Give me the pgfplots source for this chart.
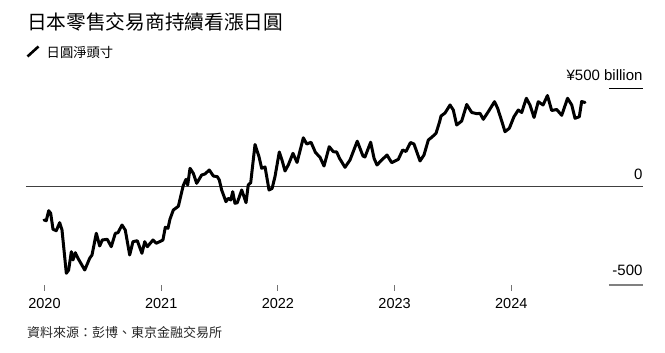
\documentclass[border=0pt]{standalone}
\usepackage{pgfplots}
\pgfplotsset{compat=1.18}
\usepackage{fontspec}
\setmainfont{Liberation Sans}
\newfontfamily\cjk{Noto Sans CJK TC}
\pgfplotstableread{
year value
2019.996 -168.4
2020.015 -171.9
2020.036 -120.9
2020.053 -134.2
2020.073 -215.8
2020.101 -223.0
2020.130 -182.1
2020.150 -219.4
2020.187 -440.3
2020.207 -423.5
2020.230 -330.1
2020.244 -372.4
2020.264 -335.2
2020.287 -363.8
2020.345 -423.5
2020.387 -363.8
2020.407 -346.9
2020.444 -236.2
2020.473 -301.0
2020.495 -270.4
2020.538 -266.8
2020.572 -304.6
2020.607 -236.2
2020.630 -233.2
2020.664 -193.9
2020.692 -219.4
2020.730 -346.9
2020.758 -279.1
2020.795 -274.0
2020.835 -338.3
2020.859 -279.1
2020.881 -304.6
2020.930 -270.4
2020.958 -287.2
2021.015 -270.4
2021.035 -205.6
2021.058 -210.7
2021.075 -164.8
2021.104 -117.3
2021.147 -98.5
2021.189 7.7
2021.213 39.3
2021.227 10.2
2021.247 95.4
2021.275 69.9
2021.304 18.9
2021.347 61.2
2021.375 66.3
2021.412 86.7
2021.447 56.1
2021.481 52.6
2021.498 35.7
2021.518 -15.3
2021.555 -75.0
2021.575 -57.7
2021.596 -66.3
2021.613 -24.0
2021.632 -83.2
2021.652 -80.1
2021.690 -15.3
2021.727 -80.1
2021.746 10.2
2021.767 21.9
2021.804 216.8
2021.838 154.6
2021.861 95.4
2021.890 102.0
2021.924 -15.3
2021.950 -7.7
2021.975 52.6
2022.012 178.6
2022.035 137.8
2022.061 81.6
2022.089 112.2
2022.129 171.9
2022.164 125.0
2022.218 251.0
2022.247 219.4
2022.284 228.1
2022.322 176.0
2022.361 151.5
2022.395 107.1
2022.440 205.6
2022.475 180.1
2022.504 178.6
2022.528 146.4
2022.575 100.5
2022.618 137.8
2022.680 233.7
2022.729 158.2
2022.746 153.1
2022.795 228.6
2022.824 146.4
2022.849 112.2
2022.890 137.8
2022.935 163.3
2022.975 124.0
2023.032 141.3
2023.069 188.8
2023.098 181.1
2023.136 227.0
2023.166 219.4
2023.218 132.7
2023.252 163.3
2023.289 239.8
2023.321 255.1
2023.355 274.0
2023.385 331.6
2023.398 362.2
2023.432 377.5
2023.475 418.4
2023.503 392.9
2023.532 316.3
2023.575 336.7
2023.618 420.9
2023.661 380.1
2023.706 374.0
2023.732 376.0
2023.760 345.4
2023.803 384.2
2023.856 435.2
2023.882 403.1
2023.918 336.7
2023.946 282.1
2023.983 299.5
2024.023 358.7
2024.060 392.9
2024.089 380.1
2024.129 452.5
2024.160 418.4
2024.195 354.6
2024.231 435.2
2024.272 418.4
2024.310 466.8
2024.346 390.3
2024.389 395.4
2024.432 365.8
2024.482 452.5
2024.518 418.4
2024.546 350.5
2024.583 358.7
2024.603 436.2
2024.632 431.1
}\netyen
\begin{document}
\begin{tikzpicture}[x=1pt,y=1pt]
\path[use as bounding box] (0,0) rectangle (665,353);
% title and legend
\node[anchor=west, inner sep=0pt, font=\cjk\fontsize{19.7}{19.7}\selectfont] at (27,331) {日本零售交易商持續看漲日圓};
\draw[black, line width=2.6pt] (27.5,296.5) -- (38.5,306.5);
\node[anchor=west, inner sep=0pt, font=\cjk\fontsize{13.3}{13.3}\selectfont] at (46.5,301) {日圓淨頭寸};
\node[anchor=west, inner sep=0pt, font=\cjk\fontsize{13}{13}\selectfont, text=black!85] at (27,20) {資料來源：彭博、東京金融交易所};
\begin{axis}[
  at={(26pt,68pt)}, anchor=south west,
  scale only axis, width=616.7pt, height=196pt,
  xmin=2019.8415, xmax=2025.126, ymin=-500, ymax=500,
  axis x line=bottom, axis y line=none,
  x axis line style={draw=none},
  xtick={2020,2021,2022,2023,2024},
  xticklabels={2020,2021,2022,2023,2024},
  xtick align=outside, major tick length=6pt,
  xtick style={draw=black!55, line width=1pt},
  xticklabel style={font=\fontsize{14.5}{14.5}\selectfont, inner sep=0pt, yshift=-7pt},
  clip=false,
]
\draw[draw=black!75, line width=1pt] (axis cs:2019.8415,0) -- (axis cs:2025.126,0);
\draw[draw=black, line width=1pt] (axis cs:2024.837,500) -- (axis cs:2025.126,500);
\draw[draw=black!50, line width=1.5pt] (axis cs:2024.837,-500) -- (axis cs:2025.126,-500);
\node[anchor=east, inner sep=0pt, font=\fontsize{15}{15}\selectfont] at (axis cs:2025.126,500) [yshift=14.3pt] {¥500 billion};
\node[anchor=east, inner sep=0pt, font=\fontsize{15}{15}\selectfont] at (axis cs:2025.126,0) [yshift=12.7pt] {0};
\node[anchor=east, inner sep=0pt, font=\fontsize{15}{15}\selectfont] at (axis cs:2025.126,-500) [yshift=14.3pt] {-500};
\addplot[black, line width=3pt, line join=round, line cap=round] table[x=year, y=value] {\netyen};
\end{axis}
\end{tikzpicture}
\end{document}
